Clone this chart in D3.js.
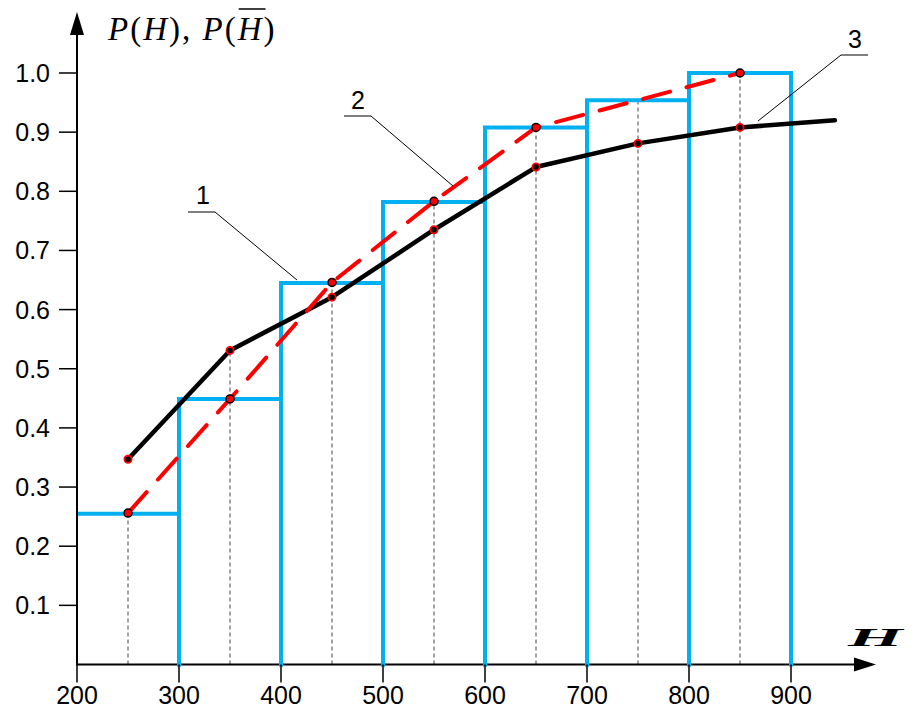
<!DOCTYPE html>
<html lang="en">
  <head>
    <meta charset="UTF-8" />
    <title>P(H) chart</title>
    <script src="https://d3js.org/d3.v7.min.js"></script>
    <style>
      body { margin: 0; background: #fff; }
      svg { display: block; }
    </style>
  </head>
  <body>
    <div id="chart-container"></div>
    <script>
      // Chart data
      const binEdges = [200, 300, 400, 500, 600, 700, 800, 900];
      const binValues = [0.255, 0.449, 0.645, 0.782, 0.908, 0.954, 1.0];
      const midPoints = [250, 350, 450, 550, 650, 750, 850];
      const curve1 = [0.347, 0.531, 0.621, 0.735, 0.841, 0.881, 0.908];
      const curve1End = [943, 0.92];
      const curve2H = [250, 350, 450, 550, 650, 850];
      const curve2 = [0.256, 0.449, 0.646, 0.783, 0.908, 1.0];
      const guideTops = [0.256, 0.531, 0.646, 0.783, 0.908, 0.954, 1.0];
      const xTicks = [200, 300, 400, 500, 600, 700, 800, 900];
      const yTicks = [0.1, 0.2, 0.3, 0.4, 0.5, 0.6, 0.7, 0.8, 0.9, 1.0];

      const width = 921;
      const height = 713;
      const blue = "#00b0f0";
      const sans = "Liberation Sans, Arial, sans-serif";
      const serif = "Liberation Serif, Times New Roman, serif";

      const svg = d3
        .select("#chart-container")
        .append("svg")
        .attr("width", width)
        .attr("height", height);

      const x = d3.scaleLinear().domain([200, 900]).range([77, 791]);
      const y = d3.scaleLinear().domain([0, 1]).range([664.5, 73]);

      // Dashed guide lines
      svg
        .selectAll(".guide")
        .data(midPoints)
        .enter()
        .append("line")
        .attr("x1", (d) => x(d))
        .attr("x2", (d) => x(d))
        .attr("y1", y(0))
        .attr("y2", (d, i) => y(guideTops[i]))
        .attr("stroke", "#444")
        .attr("stroke-width", 1)
        .attr("stroke-dasharray", "4,3");

      // x axis line (under the bins)
      svg
        .append("line")
        .attr("x1", x(200))
        .attr("x2", 868)
        .attr("y1", y(0))
        .attr("y2", y(0))
        .attr("stroke", "#000")
        .attr("stroke-width", 2);
      svg
        .append("path")
        .attr("d", "M876," + y(0) + "L854," + (y(0) - 7) + "L854," + (y(0) + 7) + "Z")
        .attr("fill", "#000");

      // Histogram bins (left, top and right sides)
      svg
        .selectAll(".bin")
        .data(binValues)
        .enter()
        .append("path")
        .attr("d", (d, i) => {
          const x0 = x(binEdges[i]);
          const x1 = x(binEdges[i + 1]);
          const start = i === 0 ? "M" + x0 + "," + y(d) : "M" + x0 + "," + (y(0) + 2) + "L" + x0 + "," + y(d);
          return start + "L" + x1 + "," + y(d) + "L" + x1 + "," + (y(0) + 2);
        })
        .attr("fill", "none")
        .attr("stroke", blue)
        .attr("stroke-width", 4);

      // y axis
      svg
        .append("line")
        .attr("x1", x(200))
        .attr("x2", x(200))
        .attr("y1", y(0) + 1)
        .attr("y2", 26)
        .attr("stroke", "#000")
        .attr("stroke-width", 2);
      svg
        .append("path")
        .attr("d", "M" + x(200) + ",12L" + (x(200) - 7) + ",35L" + (x(200) + 7) + ",35Z")
        .attr("fill", "#000");

      // y ticks
      svg
        .selectAll(".ytick")
        .data(yTicks)
        .enter()
        .append("line")
        .attr("x1", 59)
        .attr("x2", x(200))
        .attr("y1", (d) => y(d))
        .attr("y2", (d) => y(d))
        .attr("stroke", "#000")
        .attr("stroke-width", 1.5);
      svg
        .selectAll(".ylabel")
        .data(yTicks)
        .enter()
        .append("text")
        .attr("x", 50)
        .attr("y", (d) => y(d) + 9)
        .attr("text-anchor", "end")
        .style("font-family", sans)
        .style("font-size", "25px")
        .text((d) => d.toFixed(1));

      // x ticks
      svg
        .selectAll(".xtick")
        .data(xTicks)
        .enter()
        .append("line")
        .attr("x1", (d) => x(d))
        .attr("x2", (d) => x(d))
        .attr("y1", y(0))
        .attr("y2", y(0) + 18)
        .attr("stroke", "#000")
        .attr("stroke-width", 1.5);
      svg
        .selectAll(".xlabel")
        .data(xTicks)
        .enter()
        .append("text")
        .attr("x", (d) => x(d))
        .attr("y", 704)
        .attr("text-anchor", "middle")
        .style("font-family", sans)
        .style("font-size", "25px")
        .text((d) => d);

      const line = d3
        .line()
        .x((d) => x(d[0]))
        .y((d) => y(d[1]));

      // Curve 1 (black)
      const pts1 = midPoints.map((h, i) => [h, curve1[i]]).concat([curve1End]);
      svg
        .append("path")
        .attr("d", line(pts1))
        .attr("fill", "none")
        .attr("stroke", "#000")
        .attr("stroke-width", 4.5)
        .attr("stroke-linecap", "round")
        .attr("stroke-linejoin", "round");

      // Curve 2 (red dashed)
      const pts2 = curve2H.map((h, i) => [h, curve2[i]]);
      svg
        .append("path")
        .attr("d", line(pts2))
        .attr("fill", "none")
        .attr("stroke", "#ff0000")
        .attr("stroke-width", 4)
        .attr("stroke-linecap", "round")
        .attr("stroke-dasharray", "28,17");

      // Points
      svg
        .selectAll(".p1")
        .data(midPoints)
        .enter()
        .append("circle")
        .attr("cx", (d) => x(d))
        .attr("cy", (d, i) => y(curve1[i]))
        .attr("r", 3.6)
        .attr("fill", "#000")
        .attr("stroke", "#ff0000")
        .attr("stroke-width", 1.8);
      svg
        .selectAll(".p2")
        .data(curve2H)
        .enter()
        .append("circle")
        .attr("cx", (d) => x(d))
        .attr("cy", (d, i) => y(curve2[i]))
        .attr("r", 4)
        .attr("fill", "#ff0000")
        .attr("stroke", "#000")
        .attr("stroke-width", 1.5);

      // Curve labels with leader lines
      const labels = [
        { t: "1", tx: 203, ty: 204, p: [[188, 212], [215, 212], [297, 280]] },
        { t: "2", tx: 358, ty: 109, p: [[344, 116], [371, 116], [453, 186]] },
        { t: "3", tx: 855, ty: 48, p: [[868, 55], [841, 55], [758, 121]] },
      ];
      labels.forEach((l) => {
        svg
          .append("path")
          .attr("d", d3.line()(l.p))
          .attr("fill", "none")
          .attr("stroke", "#000")
          .attr("stroke-width", 1);
        svg
          .append("text")
          .attr("x", l.tx)
          .attr("y", l.ty)
          .attr("text-anchor", "middle")
          .style("font-family", sans)
          .style("font-size", "25px")
          .text(l.t);
      });

      // y axis title: P(H), P(H̄)
      const yTitle = svg
        .append("text")
        .attr("x", 108)
        .attr("y", 40)
        .style("font-family", serif)
        .style("font-size", "33px")
        .style("letter-spacing", "2px");
      const parts = [
        ["P", true], ["(", false], ["H", true], ["), ", false],
        ["P", true], ["(", false], ["H", true], [")", false],
      ];
      parts.forEach((p) => {
        yTitle
          .append("tspan")
          .style("font-style", p[1] ? "italic" : "normal")
          .text(p[0]);
      });
      const node = yTitle.node();
      const full = parts.map((p) => p[0]).join("");
      const hIdx = full.lastIndexOf("H");
      const hStart = node.getStartPositionOfChar(hIdx).x;
      const hEnd = node.getEndPositionOfChar(hIdx).x;
      svg
        .append("line")
        .attr("x1", hStart + 1)
        .attr("x2", hEnd + 2)
        .attr("y1", 9)
        .attr("y2", 9)
        .attr("stroke", "#000")
        .attr("stroke-width", 1.5);

      // x axis title
      svg
        .append("text")
        .attr("transform", "translate(848,646) scale(2.7,1)")
        .style("font-family", serif)
        .style("font-style", "italic")
        .style("font-weight", "bold")
        .style("font-size", "26px")
        .text("H");
    </script>
  </body>
</html>
